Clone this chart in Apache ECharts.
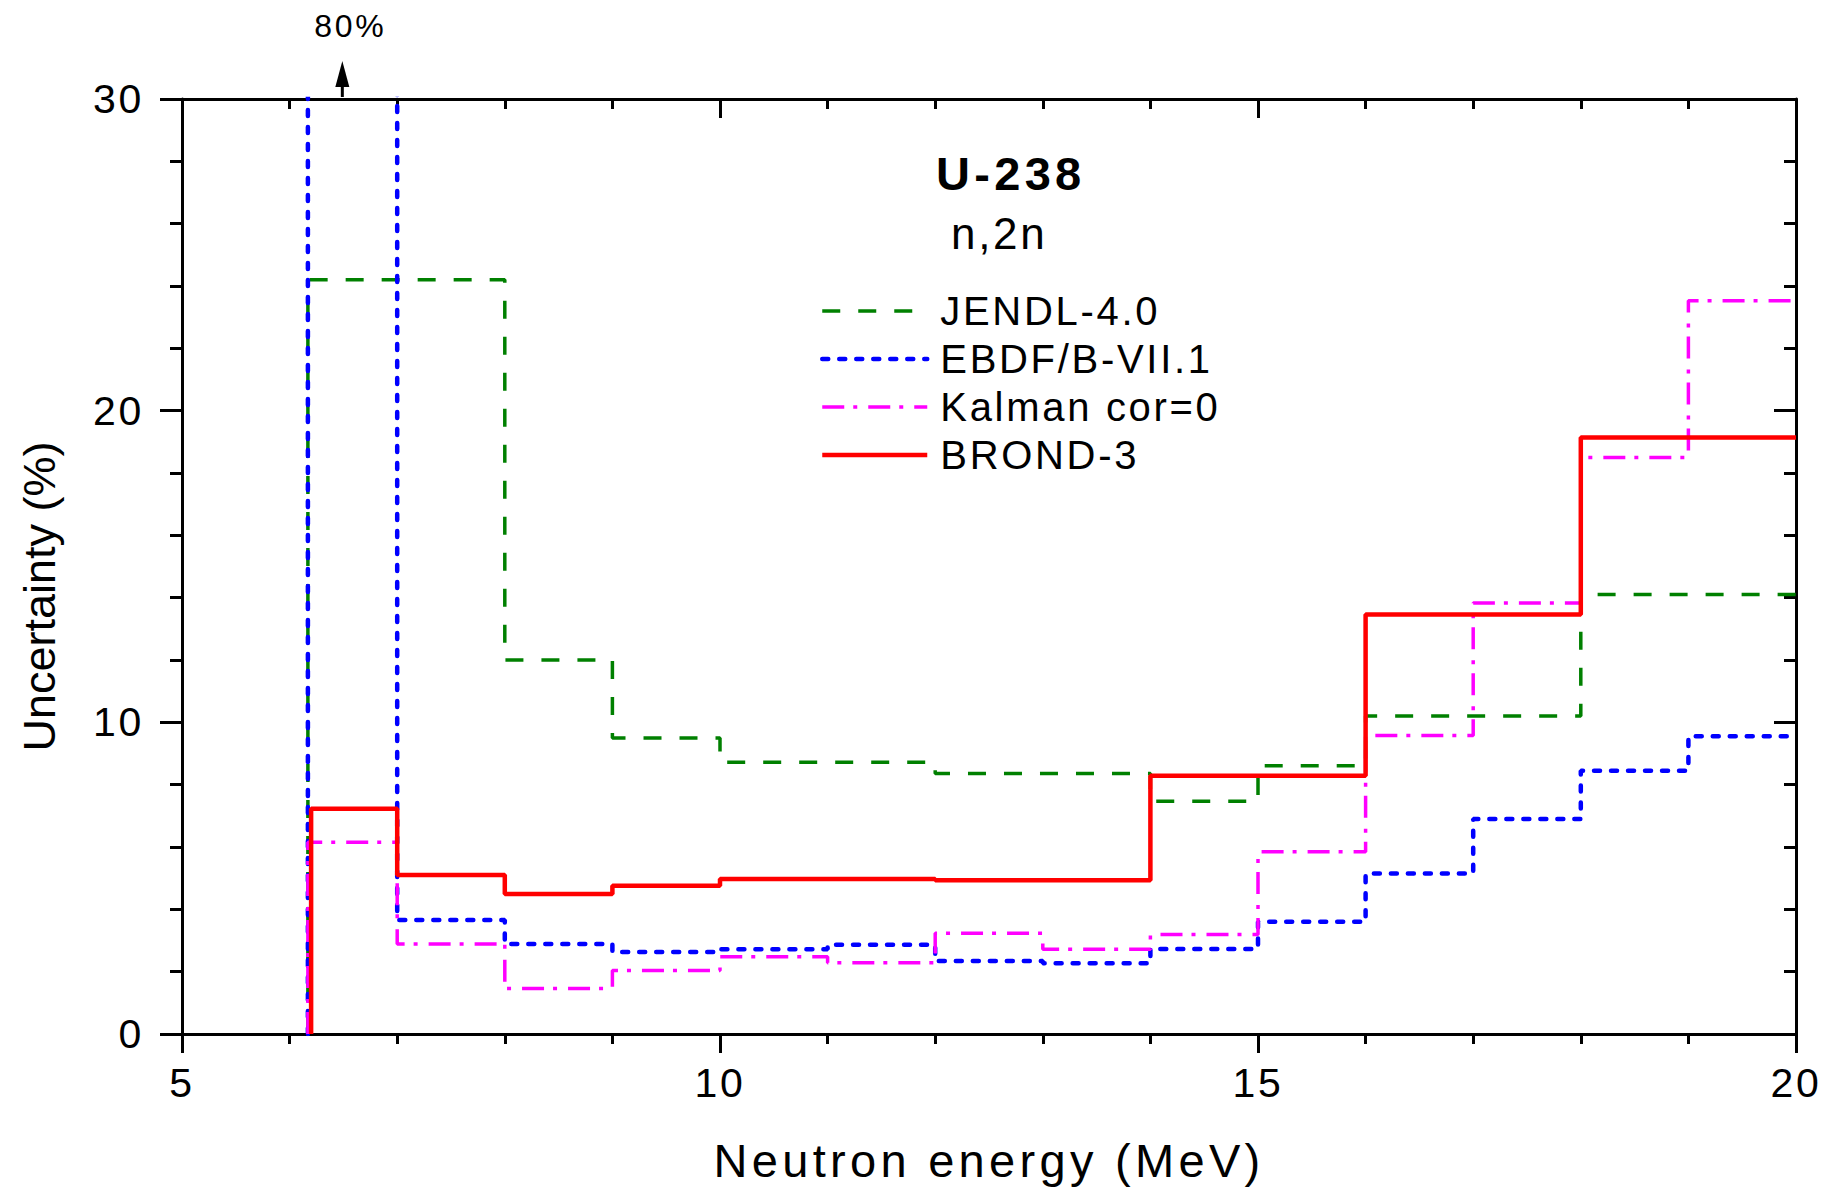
<!DOCTYPE html>
<html><head><meta charset="utf-8">
<script src="https://cdn.jsdelivr.net/npm/echarts@6/dist/echarts.min.js"></script>
<style>
html,body{margin:0;padding:0;background:#fff;}
#chart{width:1837px;height:1189px;}
#chart svg text{letter-spacing:2.7px;}
#chart svg text[style*="47px"]{letter-spacing:4.3px;}
#chart svg text[style*="45px"]{letter-spacing:0px;}
</style></head><body><div id="chart"></div>
<script>
// ---- data ----
const seriesNames = ['JENDL-4.0', 'EBDF/B-VII.1', 'Kalman cor=0', 'BROND-3'];
const edgesJENDL = [6.17, 8, 9, 10, 12, 14, 15, 16, 18, 20];
const valuesJENDL = [24.2, 12.0, 9.5, 8.72, 8.36, 7.47, 8.61, 10.2, 14.1];
const edgesEBDF = [6.17, 7, 8, 9, 10, 11, 12, 13, 14, 15, 16, 17, 18, 19, 20];
const valuesEBDF = [80, 3.66, 2.89, 2.63, 2.72, 2.86, 2.34, 2.27, 2.73, 3.6, 5.15, 6.9, 8.45, 9.55];
const edgesKalman = [6.17, 7, 8, 9, 10, 11, 12, 13, 14, 15, 16, 17, 18, 19, 20];
const valuesKalman = [6.15, 2.89, 1.46, 2.04, 2.48, 2.29, 3.23, 2.72, 3.19, 5.85, 9.58, 13.83, 18.5, 23.53];
const edgesBROND = [6.2, 7, 8, 9, 10, 12, 14, 16, 18, 20];
const valuesBROND = [7.23, 5.1, 4.49, 4.76, 4.97, 4.93, 8.29, 13.46, 19.14];
const titleText = 'U-238';
const subtitleText = 'n,2n';
const arrowEnergy = 6.49;
const arrowLabel = '80%';

function stepPoints(edges, vals) {
  const pts = [[edges[0], 0]];
  for (let i = 0; i < vals.length; i++) {
    pts.push([edges[i], vals[i]]);
    pts.push([edges[i + 1], vals[i]]);
  }
  return pts;
}

const FONT = 'Liberation Sans, Arial, sans-serif';
const chart = echarts.init(document.getElementById('chart'), null, {renderer: 'svg'});
const axisLine = {show: true, onZero: false, lineStyle: {color: '#000', width: 3}};
const tickStyle = {color: '#000', width: 3};

const styles = [
  {color: '#008000', width: 3.5, type: [18, 18]},
  {color: '#0000ff', width: 4.5, type: [6, 11], cap: 'round'},
  {color: '#ff00ff', width: 3.5, type: [22, 9, 4, 11]},
  {color: '#ff0000', width: 4.5, type: 'solid'}
];
const seriesData = [
  stepPoints(edgesJENDL, valuesJENDL),
  stepPoints(edgesEBDF, valuesEBDF),
  stepPoints(edgesKalman, valuesKalman),
  stepPoints(edgesBROND, valuesBROND)
];

chart.setOption({
  animation: false,
  backgroundColor: '#fff',
  grid: {left: 182, right: 41, top: 99, bottom: 155, outerBoundsMode: 'none', containLabel: false},
  title: [
    {text: titleText, left: 936, top: 150, padding: 0,
     textStyle: {fontSize: 47, fontWeight: 'bold', color: '#000', fontFamily: FONT}},
    {text: subtitleText, left: 951, top: 211, padding: 0,
     textStyle: {fontSize: 44, fontWeight: 'normal', color: '#000', fontFamily: FONT}}
  ],
  legend: {
    orient: 'vertical', left: 820, top: 291, padding: 0,
    itemWidth: 105, itemHeight: 14, itemGap: 8,
    data: seriesNames.map((n, i) => ({name: n, lineStyle: Object.assign({}, styles[i])})),
    itemStyle: {opacity: 0},
    textStyle: {fontSize: 40, color: '#000', fontFamily: FONT, padding: [0, 0, 0, 8], lineHeight: 40}
  },
  xAxis: [{
    type: 'value', min: 5, max: 20, interval: 5, position: 'bottom',
    axisLine: axisLine,
    axisTick: {show: true, length: 19, lineStyle: tickStyle},
    minorTick: {show: true, splitNumber: 5, length: 10, lineStyle: tickStyle},
    splitLine: {show: false}, minorSplitLine: {show: false},
    axisLabel: {fontSize: 41, color: '#000', margin: 28, fontFamily: FONT},
    name: 'Neutron energy (MeV)', nameLocation: 'middle', nameGap: 103, nameMoveOverlap: false,
    nameTextStyle: {fontSize: 47, color: '#000', fontFamily: FONT}
  }, {
    type: 'value', min: 5, max: 20, interval: 5, position: 'top',
    axisLine: axisLine,
    axisTick: {show: true, inside: true, length: 19, lineStyle: tickStyle},
    minorTick: {show: true, splitNumber: 5, length: 10, lineStyle: tickStyle},
    splitLine: {show: false}, axisLabel: {show: false}
  }],
  yAxis: [{
    type: 'value', min: 0, max: 30, interval: 10, position: 'left',
    axisLine: axisLine,
    axisTick: {show: true, length: 22, lineStyle: tickStyle},
    minorTick: {show: true, splitNumber: 5, length: 12, lineStyle: tickStyle},
    splitLine: {show: false},
    axisLabel: {fontSize: 41, color: '#000', margin: 38, fontFamily: FONT},
    name: 'Uncertainty (%)', nameLocation: 'middle', nameRotate: 90, nameGap: 120, nameMoveOverlap: false,
    nameTextStyle: {fontSize: 45, color: '#000', fontFamily: FONT, padding: [0, 60, 0, 0]}
  }, {
    type: 'value', min: 0, max: 30, interval: 10, position: 'right',
    axisLine: axisLine,
    axisTick: {show: true, inside: true, length: 22, lineStyle: tickStyle},
    minorTick: {show: true, splitNumber: 5, length: 12, lineStyle: tickStyle},
    splitLine: {show: false}, axisLabel: {show: false}
  }],
  series: seriesNames.map((n, i) => ({
    name: n, type: 'line', data: seriesData[i],
    symbol: 'none', clip: true, z: 2 + i, color: styles[i].color,
    lineStyle: Object.assign({}, styles[i])
  }))
});

const p = chart.convertToPixel({xAxisIndex: 0, yAxisIndex: 0}, [arrowEnergy, 30]);
chart.setOption({
  graphic: [
    {type: 'line', shape: {x1: p[0], y1: p[1] - 2, x2: p[0], y2: p[1] - 14},
     style: {stroke: '#000', lineWidth: 3}},
    {type: 'polygon', shape: {points: [[p[0] - 7, p[1] - 12], [p[0] + 7, p[1] - 12], [p[0], p[1] - 38]]},
     style: {fill: '#000'}},
    {type: 'text', x: p[0] + 8, y: p[1] - 73,
     style: {text: arrowLabel, fontSize: 32, fill: '#000', fontFamily: FONT, align: 'center', verticalAlign: 'middle'}}
  ]
});
</script></body></html>
